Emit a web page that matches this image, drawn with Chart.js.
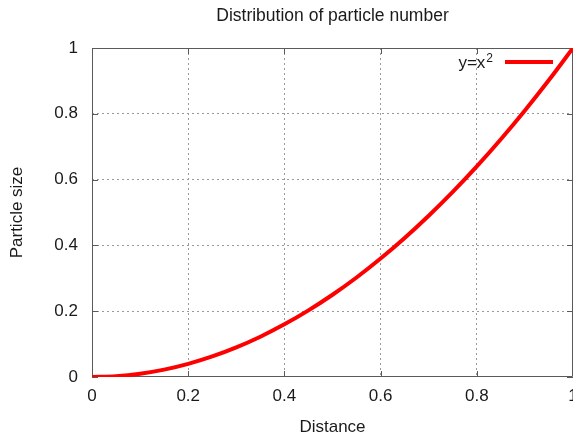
<!DOCTYPE html>
<html>
<head>
<meta charset="utf-8">
<script src="https://cdn.jsdelivr.net/npm/chart.js@4"></script>
<style>
  html, body { margin: 0; padding: 0; background: #fff; overflow: hidden; }
  #wrap { width: 573px; height: 439px; }
</style>
</head>
<body>
<div id="wrap"><canvas id="c" width="573" height="439"></canvas></div>
<script>
// ---- data ----
const distance = [0, 0.05, 0.1, 0.15, 0.2, 0.25, 0.3, 0.35, 0.4, 0.45, 0.5, 0.55, 0.6, 0.65, 0.7, 0.75, 0.8, 0.85, 0.9, 0.95, 1];
const particleSize = [0, 0.0025, 0.01, 0.0225, 0.04, 0.0625, 0.09, 0.1225, 0.16, 0.2025, 0.25, 0.3025, 0.36, 0.4225, 0.49, 0.5625, 0.64, 0.7225, 0.81, 0.9025, 1];
const xTicks = [0, 0.2, 0.4, 0.6, 0.8, 1];
const yTicks = [0, 0.2, 0.4, 0.6, 0.8, 1];
const xTickLabels = ['0', '0.2', '0.4', '0.6', '0.8', '1'];
const yTickLabels = ['0', '0.2', '0.4', '0.6', '0.8', '1'];
const seriesLabel = 'y=x^2';
const chartTitle = 'Distribution of particle number';
const xTitle = 'Distance';
const yTitle = 'Particle size';

const FONT = "'Liberation Sans', Arial, sans-serif";
const TEXT = '#1a1a1a';

const points = distance.map((x, i) => ({ x: x, y: particleSize[i] }));

// frame, inward tick marks (mirrored) drawn from the scales
const framePlugin = {
  id: 'frame',
  beforeDatasetsDraw(chart) {
    const { ctx, chartArea: a, scales } = chart;
    ctx.save();
    ctx.strokeStyle = '#5a5a5a';
    ctx.lineWidth = 1;
    ctx.beginPath();
    ctx.rect(a.left + 0.5, a.top + 0.5, a.right - a.left - 1, a.bottom - a.top - 1);
    ctx.stroke();
    const L = 6;
    ctx.beginPath();
    xTicks.forEach(v => {
      const px = Math.round(scales.x.getPixelForValue(v)) + 0.5;
      ctx.moveTo(px, a.bottom); ctx.lineTo(px, a.bottom - L);
      ctx.moveTo(px, a.top); ctx.lineTo(px, a.top + L);
    });
    yTicks.forEach(v => {
      const py = Math.round(scales.y.getPixelForValue(v)) + 0.5;
      ctx.moveTo(a.left, py); ctx.lineTo(a.left + L, py);
      ctx.moveTo(a.right, py); ctx.lineTo(a.right - L, py);
    });
    ctx.stroke();
    ctx.restore();
  }
};

// gnuplot-style key: text on the left, line sample on the right
const keyPlugin = {
  id: 'key',
  afterDatasetsDraw(chart) {
    const { ctx, chartArea: a } = chart;
    const ds = chart.data.datasets[0];
    const parts = ds.label.split('^');
    const base = parts[0], sup = parts[1] || '';
    const yMid = a.top + 14;
    const lineRight = a.right - 20;
    const lineLeft = lineRight - 48;
    ctx.save();
    ctx.strokeStyle = ds.borderColor;
    ctx.lineWidth = 4;
    ctx.beginPath();
    ctx.moveTo(lineLeft, yMid);
    ctx.lineTo(lineRight, yMid);
    ctx.stroke();
    ctx.fillStyle = TEXT;
    ctx.textBaseline = 'alphabetic';
    ctx.font = '12px ' + FONT;
    const supW = ctx.measureText(sup).width;
    const textRight = lineLeft - 12;
    ctx.textAlign = 'left';
    ctx.fillText(sup, textRight - supW, yMid);
    ctx.font = '17px ' + FONT;
    ctx.textAlign = 'right';
    ctx.fillText(base, textRight - supW - 1, yMid + 6);
    ctx.restore();
  }
};

const gridColor = (vals) => (ctx) => {
  const v = ctx.tick ? ctx.tick.value : null;
  if (v === vals[0] || v === vals[vals.length - 1]) return 'rgba(0,0,0,0)';
  return '#9a9a9a';
};

new Chart(document.getElementById('c'), {
  type: 'scatter',
  data: {
    datasets: [{
      label: seriesLabel,
      data: points,
      showLine: true,
      borderColor: '#ff0000',
      backgroundColor: '#ff0000',
      borderWidth: 4,
      pointRadius: 0,
      pointHoverRadius: 0,
      tension: 0.4,
      cubicInterpolationMode: 'monotone',
      fill: false
    }]
  },
  options: {
    responsive: false,
    animation: false,
    events: [],
    layout: { padding: { left: 0, right: 0, top: 0, bottom: 0 } },
    plugins: {
      legend: { display: false },
      tooltip: { enabled: false },
      title: {
        display: true,
        text: chartTitle,
        fullSize: false,
        color: TEXT,
        font: { family: FONT, size: 17.5, weight: 'normal', lineHeight: 1.2 },
        padding: { top: 6, bottom: 21 }
      }
    },
    scales: {
      x: {
        type: 'linear',
        min: 0, max: 1,
        afterBuildTicks: (s) => { s.ticks = xTicks.map(v => ({ value: v })); },
        afterFit: (s) => { s.height = 62; s.paddingLeft = 0; s.paddingRight = 0; },
        ticks: {
          color: TEXT,
          padding: 9,
          maxRotation: 0,
          autoSkip: false,
          callback: (v, i) => xTickLabels[i],
          font: { family: FONT, size: 17, lineHeight: 1.2 }
        },
        grid: { color: gridColor(xTicks), drawTicks: false, lineWidth: 1 },
        border: { display: false, dash: [2, 3] },
        title: {
          display: true,
          text: xTitle,
          color: TEXT,
          font: { family: FONT, size: 17, lineHeight: 1.2 },
          padding: { top: 0, bottom: 1 }
        }
      },
      y: {
        type: 'linear',
        min: 0, max: 1,
        afterBuildTicks: (s) => { s.ticks = yTicks.map(v => ({ value: v })); },
        afterFit: (s) => { s.width = 92; s.paddingTop = 0; s.paddingBottom = 0; },
        ticks: {
          color: TEXT,
          padding: 14,
          autoSkip: false,
          callback: (v, i) => yTickLabels[i],
          font: { family: FONT, size: 17, lineHeight: 1.2 }
        },
        grid: { color: gridColor(yTicks), drawTicks: false, lineWidth: 1 },
        border: { display: false, dash: [2, 3] },
        title: {
          display: true,
          text: yTitle,
          color: TEXT,
          font: { family: FONT, size: 17, lineHeight: 1.2 },
          padding: { top: 7, bottom: 0 }
        }
      }
    }
  },
  plugins: [framePlugin, keyPlugin]
});
</script>
</body>
</html>
